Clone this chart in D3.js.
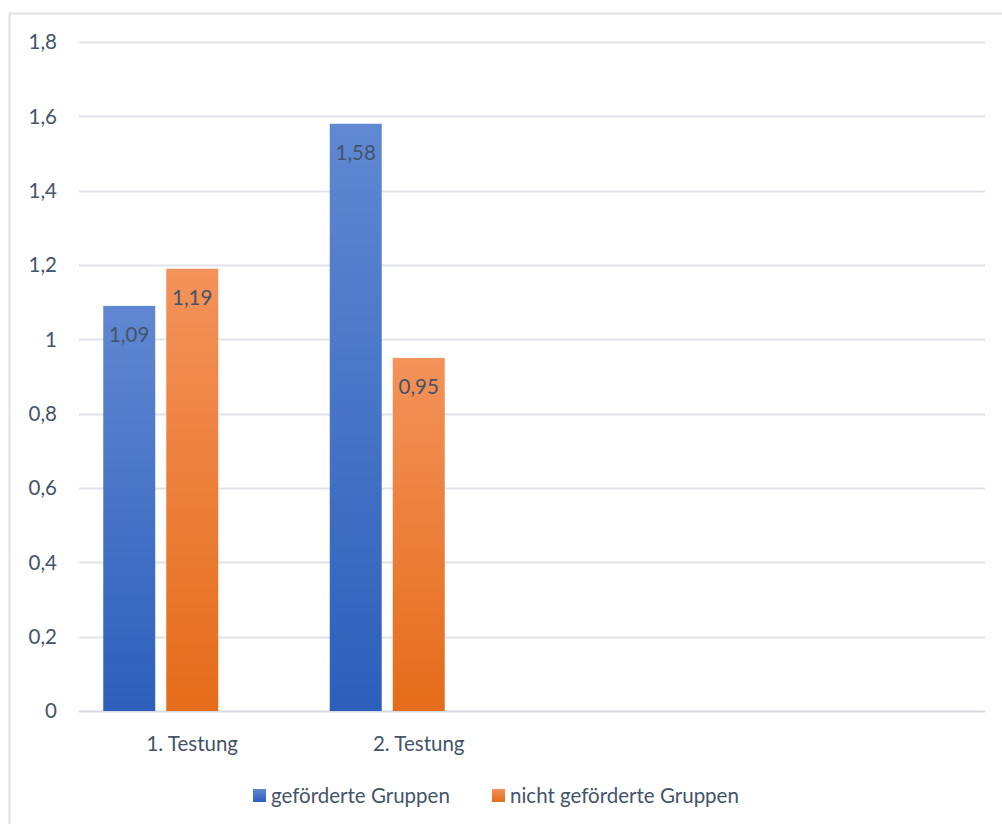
<!DOCTYPE html>
<html>
<head>
<meta charset="utf-8">
<script src="https://cdn.jsdelivr.net/npm/d3@7"></script>
<style>
  body { margin: 0; background: #fff; }
  text { font-family: Lato, "Open Sans", sans-serif; fill: #44546a; }
</style>
</head>
<body>
<svg id="chart" width="1002" height="824"></svg>
<script>
// categories (the last two slots are empty in the original chart)
var categories = ["1. Testung", "2. Testung", "", ""];
// series names, third slot is an empty series reserved in the original
var seriesNames = ["geförderte Gruppen", "nicht geförderte Gruppen", ""];
var gefoerdert = [1.09, 1.58, null, null];
var nichtGefoerdert = [1.19, 0.95, null, null];
var leer = [null, null, null, null];
var yTicks = [0, 0.2, 0.4, 0.6, 0.8, 1, 1.2, 1.4, 1.6, 1.8];

var seriesValues = [gefoerdert, nichtGefoerdert, leer];
var colorsTop = ["#6088d2", "#f3925a", "#aaa"];
var colorsBottom = ["#2d5fbb", "#e56c1a", "#888"];

var svg = d3.select("#chart");
var fmt = function(v) { return String(v).replace(".", ","); };
var fontSize = "20.5px";

// outer frame
svg.append("rect").attr("x", 9.5).attr("y", 13.5).attr("width", 1010).attr("height", 830)
  .attr("fill", "none").attr("stroke", "#dde1e8").attr("stroke-width", 2);

var plotLeft = 79, plotRight = 985, plotTop = 42, plotBottom = 711;

var x = d3.scaleBand().domain(d3.range(categories.length)).range([plotLeft, plotRight]);
var inner = d3.scaleBand().domain(d3.range(seriesNames.length))
  .range([0, x.bandwidth()]).paddingInner(0.175).paddingOuter(0.385);
var y = d3.scaleLinear().domain([0, 1.8]).range([plotBottom, plotTop]);

// gradients
var defs = svg.append("defs");
seriesNames.forEach(function(s, i) {
  var g = defs.append("linearGradient").attr("id", "grad" + i)
    .attr("x1", 0).attr("y1", 0).attr("x2", 0).attr("y2", 1);
  g.append("stop").attr("offset", "0%").attr("stop-color", colorsTop[i]);
  g.append("stop").attr("offset", "100%").attr("stop-color", colorsBottom[i]);
});

// gridlines
svg.append("g").selectAll("line").data(yTicks).enter().append("line")
  .attr("x1", plotLeft).attr("x2", plotRight)
  .attr("y1", function(d) { return Math.round(y(d)) + 0.5; })
  .attr("y2", function(d) { return Math.round(y(d)) + 0.5; })
  .attr("stroke", function(d) { return d == 0 ? "#d5dae2" : "#dfe3ea"; })
  .attr("stroke-width", 2);

// y tick labels
svg.append("g").selectAll("text").data(yTicks).enter().append("text")
  .attr("x", 57).attr("y", function(d) { return y(d); })
  .attr("dy", "0.35em").attr("text-anchor", "end")
  .style("font-size", fontSize)
  .text(fmt);

// bars
seriesValues.forEach(function(vals, si) {
  var grp = svg.append("g");
  var data = vals.map(function(v, ci) { return {v: v, ci: ci}; })
    .filter(function(d) { return d.v != null; });
  grp.selectAll("rect").data(data).enter().append("rect")
    .attr("x", function(d) { return x(d.ci) + inner(si); })
    .attr("width", inner.bandwidth())
    .attr("y", function(d) { return y(d.v); })
    .attr("height", function(d) { return y(0) - y(d.v); })
    .attr("fill", "url(#grad" + si + ")");
  grp.selectAll("text").data(data).enter().append("text")
    .attr("x", function(d) { return x(d.ci) + inner(si) + inner.bandwidth() / 2; })
    .attr("y", function(d) { return y(d.v) + 36; })
    .attr("text-anchor", "middle")
    .style("font-size", fontSize)
    .text(function(d) { return fmt(d.v); });
});

// category labels
svg.append("g").selectAll("text").data(categories).enter().append("text")
  .attr("x", function(d, i) { return x(i) + x.bandwidth() / 2; })
  .attr("y", 751).attr("text-anchor", "middle")
  .style("font-size", fontSize)
  .text(function(d) { return d; });

// legend (only the two named series)
var legendX = [253, 492];
var legend = svg.append("g");
[0, 1].forEach(function(i) {
  legend.append("rect").attr("x", legendX[i]).attr("y", 789).attr("width", 13).attr("height", 13)
    .attr("fill", "url(#grad" + i + ")");
  legend.append("text").attr("x", legendX[i] + 18).attr("y", 803)
    .style("font-size", fontSize).text(seriesNames[i]);
});
</script>
</body>
</html>
